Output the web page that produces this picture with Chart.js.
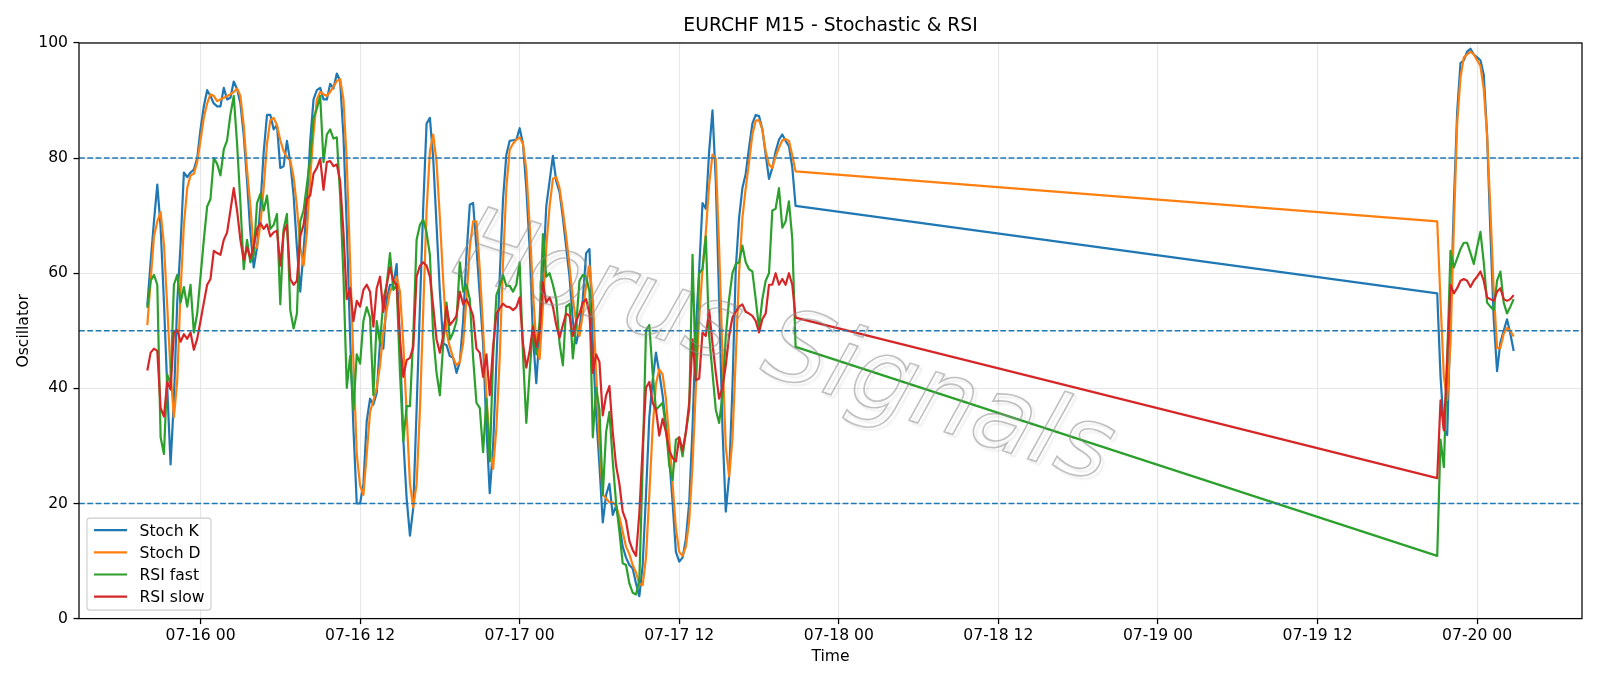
<!DOCTYPE html>
<html>
<head>
<meta charset="utf-8">
<title>EURCHF M15 - Stochastic & RSI</title>
<script src="https://cdn.jsdelivr.net/npm/chart.js@4.4.1/dist/chart.umd.min.js"></script>
<style>
  body { margin: 0; background: #fff; }
  canvas { display: block; }
</style>
</head>
<body>
<canvas id="oscChart" width="1600" height="686"></canvas>
<script>
// first block of M15 bars starts 2020-07-15 20:00, second block after the weekend
var week1Start = Date.UTC(2020, 6, 15, 20, 0);
var week2Start = Date.UTC(2020, 6, 19, 21, 0);
var barMs = 15 * 60 * 1000;

var stochK1 = [
  54.4, 62, 69, 75.4, 68, 55, 40, 26.8, 38, 55, 65, 77.5,
  76.7, 77.5, 78, 80, 85, 89, 91.8, 90.8, 89.5, 89, 89, 92.2,
  90.2, 90.5, 93.3, 92, 89.5, 84, 76, 67, 61, 64.5, 71.6, 81,
  87.5, 87.5, 85, 85.7, 78.3, 78.6, 83, 79.3, 73.5, 64.5, 56.8, 63.9,
  72, 83, 90.2, 91.8, 92.2, 90.2, 90.2, 92.9, 92.1, 94.7, 93.4, 83.8,
  68, 49, 33, 20, 20, 23.4, 34.3, 38.2, 37.2, 39.2, 48.1, 46.9,
  55.5, 58, 58, 61.6, 47.8, 31.1, 20.9, 14.4, 19.3, 36.3, 54.2, 71.6,
  86, 87, 79.9, 68.4, 56.8, 47.8, 47.5, 45.6, 45.3, 42.7, 44.6, 51.7,
  63.2, 71.9, 72.2, 64.5, 56.2, 47.8, 33.1, 21.8, 29.8, 44.6, 59.4, 72.9,
  80.6, 83, 83.1, 83.2, 85.2, 82.5, 74.8, 64.5, 49.1, 40.9, 49.7, 59.4,
  71.6, 76, 80.4, 76, 74.1, 69.6, 64.5, 59.4, 51.7, 47.8, 50.4, 55.5,
  63.5, 64.2, 47.8, 35.6, 26.6, 16.7, 21.5, 23.4, 18, 19.6, 16.4, 12.5,
  10.6, 9.3, 8.7, 6.1, 3.9, 9.3, 21.5, 35, 41.4, 46.2, 42.7, 38.8,
  33.7, 27.9, 20.2, 11.6, 9.9, 10.6, 13.8, 20.2, 33.1, 50.4, 60.7, 72.2,
  71.2, 81.2, 88.3, 76, 55.5, 33.1, 18.6, 24.7, 40.1, 60.7, 69.6, 74.8,
  77.3, 81.8, 86, 87.5, 87.3, 85, 80.6, 76.4, 78.3, 81.2, 83.2, 84.1,
  83, 82.1, 78.4, 71.7
];
var stochD1 = [
  51, 58.7, 66.4, 69, 70.6, 65, 54.2, 42.7, 35, 41.4, 56.8, 68.4,
  74.8, 77, 77.3, 79.3, 83.1, 87, 89.5, 91.1, 90.8, 89.9, 90.2, 90.5,
  90.8, 91.1, 91.5, 92.1, 90.8, 85.7, 78, 71.6, 64.2, 64.5, 68.4, 74.8,
  82.5, 86.6, 87, 85.7, 83.1, 81.2, 80.2, 79.6, 76.7, 71.6, 64.5, 61.3,
  67.1, 76.7, 84.4, 90.2, 91.5, 91.1, 90.8, 91.5, 92.4, 93.4, 93.7, 90.2,
  79.3, 61.9, 44.6, 28.6, 23.1, 21.5, 28.6, 35.9, 37.9, 40.1, 44, 49.7,
  53.6, 56.8, 58, 59.4, 56.8, 47.8, 35.6, 23.4, 19.3, 23.4, 36.3, 53.6,
  70.9, 81.2, 84.1, 79.3, 69.6, 58.7, 49.7, 47.2, 45.3, 44, 44.6, 47.8,
  55.5, 64.5, 69, 69, 60.7, 50.4, 38.8, 29.8, 26, 33.1, 45.3, 61.9,
  74.8, 81.5, 82.5, 83.2, 83.6, 82.5, 78, 68.4, 56.8, 47.8, 45.1, 54.2,
  64.5, 71.6, 76.4, 76.7, 74.8, 70.9, 66.4, 61.3, 55.5, 51.7, 49.1, 53,
  58, 61.3, 55.5, 42.7, 30.5, 21.5, 20.9, 20.2, 20.2, 19.6, 17.7, 15.1,
  12.5, 11.2, 9.3, 8, 6, 5.8, 10.6, 21.5, 33.1, 40.8, 43.3, 42.4,
  38.2, 31.1, 23.4, 15.7, 11.6, 10.9, 12.5, 17, 26.6, 40.1, 52.3, 60.7,
  67.1, 75.4, 80.6, 79.9, 64.5, 45.9, 29.8, 24.7, 31.1, 45.3, 60, 69.6,
  74.8, 79.3, 84.1, 86.5, 86.6, 85, 81.2, 78.9, 78.3, 80.3, 81.8, 83.1,
  83.3, 83, 80.5, 77.7
];
var rsiFast1 = [
  54, 58.7, 59.7, 58, 31.5, 28.6, 42.4, 40.8, 58, 59.7, 54.9, 57.6,
  54.2, 58, 49.7, 53, 59.4, 65.8, 71.6, 72.9, 80, 79, 77, 81.5,
  83.1, 87.6, 90.8, 82.5, 72.2, 60.7, 65.8, 61.9, 63.2, 72.2, 73.8, 70.9,
  73.5, 67.7, 68.4, 70.3, 54.6, 67.7, 70.3, 53.6, 50.4, 53, 69, 70.9,
  75.4, 79.9, 87, 88.6, 90.8, 79.3, 84.1, 85, 83.4, 83.6, 73.5, 59.4,
  40.1, 45.6, 36.3, 45.9, 44.3, 51.7, 54.1, 52.3, 38.8, 51.7, 47.8, 55.5,
  58, 63.5, 57.1, 58, 42.7, 30.8, 36.9, 36.9, 49.1, 65.8, 68.4, 69.3,
  67.1, 63.2, 49.1, 42.7, 38.8, 47.8, 54.9, 48.5, 49.7, 51.7, 61.9, 56.8,
  58, 55.5, 45.3, 37.5, 36.6, 28.9, 38.2, 27.3, 45.3, 56.2, 57.8, 59.7,
  57.8, 57.8, 56.8, 58, 61.9, 45.9, 34, 42.7, 51, 45.9, 51.7, 66.8,
  59.4, 60, 58, 55.5, 47.8, 44, 54.2, 54.7, 45.2, 51, 58.7, 59.7,
  59.4, 56.8, 31.5, 40.1, 36.3, 21.5, 32.4, 35.9, 27.3, 20.2, 15.1, 9.6,
  9.3, 6.1, 4.5, 4.2, 6.7, 26.6, 50.1, 51, 42.7, 36.3, 36.9, 37.5,
  33.1, 26.6, 24.1, 31.1, 31.5, 28.2, 32.4, 36.3, 63.2, 41.4, 60, 60.7,
  66.4, 49.1, 42.7, 36.3, 34, 38.8, 49.1, 55.5, 60, 61.6, 61.9, 64.8,
  61.9, 60.7, 60.3, 55.5, 50.4, 55.5, 58.7, 60, 70.9, 71.2, 74.8, 67.9,
  69, 72.5, 66, 47.2
];
var rsiSlow1 = [
  43.1, 46.2, 46.9, 46.5, 36.6, 35.1, 41.1, 39.8, 49.7, 50.1, 48.1, 49.4,
  48.6, 49.7, 46.7, 48.6, 51.7, 54.9, 58, 59, 63.9, 63.5, 63.2, 65.8,
  67.1, 70.9, 74.8, 70.9, 65.8, 62.3, 64.5, 62.6, 64.8, 67.7, 68.7, 67.7,
  68.5, 66.4, 67.1, 67.4, 61.3, 67.1, 68.4, 59, 58, 58.7, 66.4, 68.4,
  72.9, 73.5, 77.3, 78.3, 79.9, 74.5, 79.3, 79.5, 78.6, 78.9, 76, 67.1,
  55.5, 57.4, 51.7, 55.2, 54.2, 57.1, 58, 56.8, 50.7, 57.4, 59.4, 53.3,
  58, 61, 58.7, 58, 48.5, 42, 44.9, 45.3, 47.2, 59.4, 61.3, 61.9,
  61.3, 59.4, 54.2, 48.5, 46.2, 49.1, 54.2, 51, 51.7, 52.6, 56.8, 54.6,
  55.5, 54.2, 52.6, 46.9, 46.2, 42, 45.9, 38.8, 47.2, 53, 53.9, 54.7,
  54.2, 54.1, 53.6, 54.1, 55.8, 47.8, 43.6, 46.5, 50.7, 47.2, 49.7, 58.4,
  54.9, 55.8, 54.2, 51, 48.8, 51, 53, 52.6, 49.1, 51.7, 53, 54.9,
  55.5, 53, 42.7, 45.9, 44.6, 35.3, 38.8, 40.4, 32.4, 26.6, 23.4, 18.6,
  17, 13.5, 11.9, 10.9, 18.3, 29.8, 40.1, 41.1, 37.5, 36.3, 31.8, 34.7,
  32.4, 29.2, 27.9, 27.3, 31.5, 29.2, 32.4, 37.5, 48.5, 41.4, 41.7, 49.7,
  49.1, 53.6, 47.8, 42.7, 38.2, 40.1, 44, 49.1, 52.3, 53.3, 54.2, 54.6,
  53.3, 53, 52.6, 51.7, 49.7, 52, 53, 58, 58, 60, 58, 59,
  58, 60, 58, 52.3
];

var stochK2 = [56.5, 42, 33, 31.9, 52, 72, 88, 96.5, 97, 98.5, 99, 98, 97.5, 97, 94.5, 84, 67, 52, 43, 48, 50, 52, 49.5, 46.5];
var stochD2 = [69, 55, 42, 38, 48, 68, 86, 94, 97.5, 98, 98.5, 98, 97, 96, 92, 84, 71, 57, 47, 47, 49.5, 50.5, 50, 49];
var rsiFast2 = [10.9, 31.1, 26.3, 45, 63.9, 61, 62.6, 64.2, 65.3, 65.3, 63.5, 61.6, 64.5, 67.2, 61.9, 54.9, 54.2, 53.6, 58.7, 60.3, 54.9, 53, 54.2, 55.5];
var rsiSlow2 = [24.4, 37.9, 32.7, 45, 58, 56.5, 57.4, 58.7, 59, 58.7, 57.6, 58.7, 59.4, 60.3, 58.7, 55.8, 55.5, 55.2, 56.8, 57.4, 55.5, 55.2, 55.5, 56.2];

var seriesNames = ['Stoch K', 'Stoch D', 'RSI fast', 'RSI slow'];
var seriesColors = ['#1f77b4', '#ff7f0e', '#2ca02c', '#d62728'];
var refLevels = [80, 20, 50];
var xTickLabels = ['07-16 00', '07-16 12', '07-17 00', '07-17 12', '07-18 00', '07-18 12', '07-19 00', '07-19 12', '07-20 00'];
var yTicks = [0, 20, 40, 60, 80, 100];
var watermarkText = 'Horus Signals';

function toPoints(start, values) {
  return values.map(function (v, i) { return { x: start + i * barMs, y: v }; });
}
function labelToTime(lbl) {
  var md = lbl.split(' ')[0].split('-');
  return Date.UTC(2020, +md[0] - 1, +md[1], +lbl.split(' ')[1]);
}

var seriesData = [
  toPoints(week1Start, stochK1).concat(toPoints(week2Start, stochK2)),
  toPoints(week1Start, stochD1).concat(toPoints(week2Start, stochD2)),
  toPoints(week1Start, rsiFast1).concat(toPoints(week2Start, rsiFast2)),
  toPoints(week1Start, rsiSlow1).concat(toPoints(week2Start, rsiSlow2))
];

// matplotlib style 5% margin on x
var tFirst = week1Start;
var tLast = week2Start + (stochK2.length - 1) * barMs;
var xMin = tFirst - 0.05 * (tLast - tFirst);
var xMax = tLast + 0.05 * (tLast - tFirst);
var xTickValues = xTickLabels.map(labelToTime);

var datasets = seriesData.map(function (pts, i) {
  return {
    label: seriesNames[i],
    data: pts,
    borderColor: seriesColors[i],
    backgroundColor: seriesColors[i],
    borderWidth: 2.2,
    pointRadius: 0,
    tension: 0,
    borderJoinStyle: 'round',
    order: 4 - i
  };
});
refLevels.forEach(function (lvl) {
  datasets.push({
    label: 'level ' + lvl,
    data: [{ x: xMin, y: lvl }, { x: xMax, y: lvl }],
    borderColor: '#1f77b4',
    borderWidth: 1.5,
    borderDash: [5.8, 2.5],
    pointRadius: 0,
    order: 0
  });
});

var tickFont = { family: 'DejaVu Sans', size: 15.6 };

var watermark = {
  id: 'watermark',
  afterDatasetsDraw: function (chart) {
    var c = chart.ctx;
    c.save();
    c.translate(783, 352);
    c.rotate(18 * Math.PI / 180);
    c.font = 'italic 100px "DejaVu Sans"';
    c.textAlign = 'center';
    c.textBaseline = 'middle';
    c.shadowColor = 'rgba(0,0,0,0.15)';
    c.shadowOffsetX = 3;
    c.shadowOffsetY = 3;
    c.shadowBlur = 2;
    c.lineWidth = 1.6;
    c.strokeStyle = 'rgba(140,140,140,0.55)';
    c.strokeText(watermarkText, 0, 0);
    c.restore();
  }
};

var frame = {
  id: 'frame',
  afterDraw: function (chart) {
    var a = chart.chartArea, c = chart.ctx;
    c.save();
    c.strokeStyle = '#000';
    c.lineWidth = 1.25;
    c.strokeRect(a.left, a.top, a.right - a.left, a.bottom - a.top);

    // legend box, lower left like matplotlib
    var L = a.left + 8, B = a.bottom - 8.5, W = 124, H = 92, r = 3;
    var T = B - H;
    c.beginPath();
    c.moveTo(L + r, T);
    c.arcTo(L + W, T, L + W, B, r);
    c.arcTo(L + W, B, L, B, r);
    c.arcTo(L, B, L, T, r);
    c.arcTo(L, T, L + W, T, r);
    c.closePath();
    c.fillStyle = 'rgba(255,255,255,0.8)';
    c.fill();
    c.strokeStyle = '#cccccc';
    c.lineWidth = 1.1;
    c.stroke();

    c.font = '15.6px "DejaVu Sans"';
    c.textAlign = 'left';
    c.textBaseline = 'alphabetic';
    for (var i = 0; i < seriesNames.length; i++) {
      var yc = T + 12 + i * 22.2;
      c.strokeStyle = seriesColors[i];
      c.lineWidth = 2.2;
      c.beginPath();
      c.moveTo(L + 7, yc);
      c.lineTo(L + 40, yc);
      c.stroke();
      c.fillStyle = '#000';
      c.fillText(seriesNames[i], L + 52.5, yc + 5.6);
    }
    c.restore();
  }
};

new Chart(document.getElementById('oscChart'), {
  type: 'line',
  data: { datasets: datasets },
  options: {
    responsive: false,
    animation: false,
    devicePixelRatio: 1,
    layout: { padding: { left: 0, right: 18, top: 0, bottom: 0 } },
    plugins: {
      legend: { display: false },
      tooltip: { enabled: false },
      title: {
        display: true,
        fullSize: false,
        text: 'EURCHF M15 - Stochastic & RSI',
        color: '#000',
        font: { family: 'DejaVu Sans', size: 18.75, weight: 'normal' },
        padding: { top: 15, bottom: 5.5 }
      }
    },
    scales: {
      x: {
        type: 'linear',
        min: xMin,
        max: xMax,
        afterBuildTicks: function (s) {
          s.ticks = xTickValues.map(function (v) { return { value: v }; });
        },
        afterFit: function (s) {
          s.height = 67.4;
          s.paddingLeft = 0;
          s.paddingRight = 0;
        },
        ticks: {
          autoSkip: false,
          maxRotation: 0,
          padding: 2,
          color: '#000',
          font: tickFont,
          callback: function (v, i) { return xTickLabels[i]; }
        },
        grid: { color: '#e6e6e6', lineWidth: 1.1, tickLength: 5.5, tickColor: '#000', tickWidth: 1.25 },
        border: { display: false },
        title: { display: true, text: 'Time', color: '#000', font: tickFont, padding: { top: 0, bottom: 20 } }
      },
      y: {
        min: 0,
        max: 100,
        afterBuildTicks: function (s) {
          s.ticks = yTicks.map(function (v) { return { value: v }; });
        },
        afterFit: function (s) {
          s.width = 79;
          s.paddingTop = 0;
          s.paddingBottom = 0;
        },
        ticks: { padding: 5.5, color: '#000', font: tickFont },
        grid: { color: '#e6e6e6', lineWidth: 1.1, tickLength: 5.5, tickColor: '#000', tickWidth: 1.25 },
        border: { display: false },
        title: { display: true, text: 'Oscillator', color: '#000', font: tickFont, padding: { top: 15, bottom: 0 } }
      }
    }
  },
  plugins: [watermark, frame]
});
</script>
</body>
</html>
